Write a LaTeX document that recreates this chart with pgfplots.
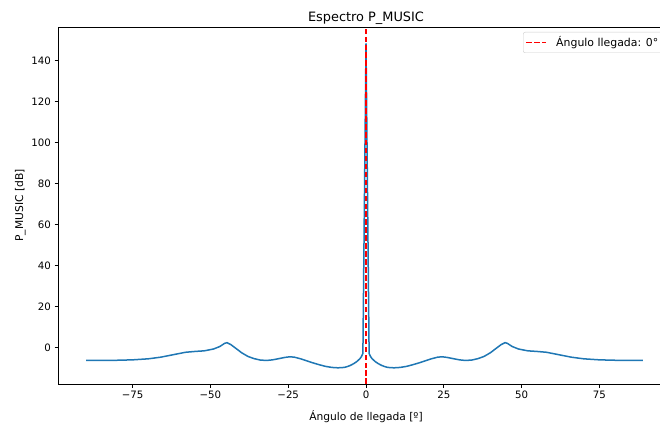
\documentclass[border=0pt]{standalone}
\usepackage{fontspec}
\setmainfont{DejaVu Sans}
\usepackage{pgfplots}
\pgfplotsset{compat=1.18}
\usetikzlibrary{calc}

\definecolor{mplblue}{HTML}{1F77B4}
\definecolor{legendedge}{gray}{0.8}

\begin{document}
\fontsize{10}{12}\selectfont
\begin{tikzpicture}
\begin{axis}[
    scale only axis,
    width=616pt, height=357pt,
    xmin=-99, xmax=99,
    ymin=-17.9, ymax=156.5,
    xtick={-75,-50,-25,0,25,50,75},
    xticklabels={−75,−50,−25,0,25,50,75},
    ytick={0,20,...,140},
    tick pos=left,
    tick align=outside,
    major tick length=3.5pt,
    every tick/.style={black, line width=0.8pt},
    axis line style={black, line width=0.8pt},
    ticklabel style={font=\fontsize{10.2}{12}\selectfont},
    /pgf/number format/assume math mode=true,
    title={Espectro P\_MUSIC},
    title style={font=\fontsize{12.9}{15}\selectfont, yshift=-7pt},
    xlabel={Ángulo de llegada [º]},
    xlabel style={yshift=-5pt},
    ylabel={P\_MUSIC [dB]},
    ylabel style={yshift=-1pt},
    label style={font=\fontsize{10.7}{13}\selectfont},
    legend style={at={(rel axis cs:0.7549,1)}, anchor=north west,
        yshift=-5pt, draw=legendedge, rounded corners=2pt,
        font=\fontsize{10.9}{13}\selectfont, inner sep=2.5pt,
        column sep=7pt},
    legend cell align=left,
    legend image code/.code={\draw[#1] (0pt,0pt) -- (20pt,0pt);},
]
\coordinate (O) at (rel axis cs:0,0);
\coordinate (T) at (rel axis cs:0,1);

% espectro
\addplot[mplblue, line width=1.5pt, forget plot] coordinates {
(-90,-6.4) (-85,-6.4) (-80,-6.3) (-75,-6.1) (-70,-5.6) (-66,-4.8)
(-62,-3.6) (-58,-2.4) (-55,-2.0) (-52,-1.7) (-49,-0.8) (-47,0.4)
(-45.5,1.9) (-44.7,2.3) (-43.5,1.4) (-42,-0.3) (-40,-2.6) (-38,-4.4)
(-36,-5.5) (-34,-6.2) (-32,-6.4) (-30,-6.1) (-28,-5.5) (-26,-4.9)
(-24.5,-4.6) (-23,-4.8) (-21,-5.6) (-19,-6.6) (-17,-7.6) (-15,-8.5)
(-13,-9.3) (-11,-9.8) (-9,-10.0) (-7,-9.8) (-6,-9.4) (-5,-8.8)
(-4,-8.0) (-3,-7.0) (-2,-5.6) (-1.5,-4.6) (-1,-3.0)
(0,148.5)
(1,-3.0) (1.5,-4.6) (2,-5.6) (3,-7.0) (4,-8.0) (5,-8.8) (6,-9.4)
(7,-9.8) (9,-10.0) (11,-9.8) (13,-9.3) (15,-8.5) (17,-7.6) (19,-6.6)
(21,-5.6) (23,-4.8) (24.5,-4.6) (26,-4.9) (28,-5.5) (30,-6.1)
(32,-6.4) (34,-6.2) (36,-5.5) (38,-4.4) (40,-2.6) (42,-0.3)
(43.5,1.4) (44.7,2.3) (45.5,1.9) (47,0.4) (49,-0.8) (52,-1.7)
(55,-2.0) (58,-2.4) (62,-3.6) (66,-4.8) (70,-5.6) (75,-6.1)
(80,-6.3) (85,-6.4) (89,-6.4)
};
% angulo de llegada
\addplot[red, line width=1.5pt, dash pattern=on 5.55pt off 2.4pt]
    coordinates {(0,-17.9) (0,156.5)};
\addlegendentry{Ángulo llegada: 0°}
\end{axis}
\pgfresetboundingbox
\path[use as bounding box] ($(O)+(-58pt,-41pt)$) rectangle ($(T)+(602pt,27pt)$);
\end{tikzpicture}
\end{document}
